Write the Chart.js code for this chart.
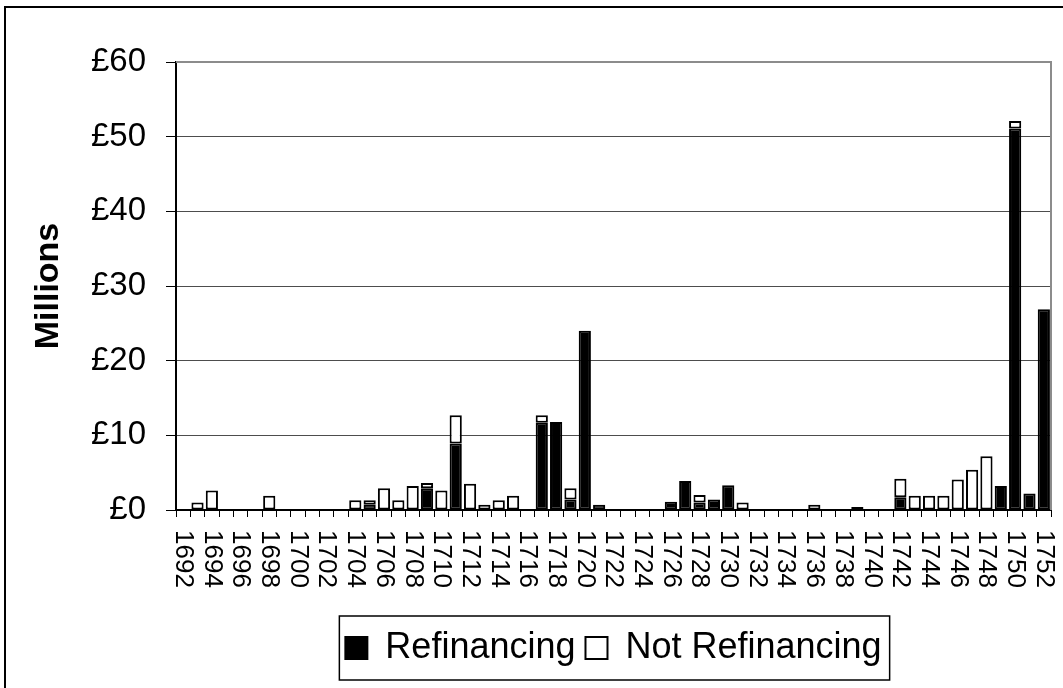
<!DOCTYPE html>
<html>
<head>
<meta charset="utf-8">
<script src="https://cdn.jsdelivr.net/npm/chart.js@4.4.1/dist/chart.umd.min.js"></script>
<style>
  html, body { margin: 0; padding: 0; background: #fff; }
  #wrap { width: 1063px; height: 688px; position: relative; }
</style>
</head>
<body>
<div id="wrap"><canvas id="myChart"></canvas></div>
<script>
// years on the category axis (labels shown for even years only)
const years = [
  '1692','1693','1694','1695','1696','1697','1698','1699','1700','1701',
  '1702','1703','1704','1705','1706','1707','1708','1709','1710','1711',
  '1712','1713','1714','1715','1716','1717','1718','1719','1720','1721',
  '1722','1723','1724','1725','1726','1727','1728','1729','1730','1731',
  '1732','1733','1734','1735','1736','1737','1738','1739','1740','1741',
  '1742','1743','1744','1745','1746','1747','1748','1749','1750','1751',
  '1752'
];

// £ millions
const refinancing = [
  null, null, null, null, null, null, null, null, null, null,   // 1692-1701
  null, null, null, 0.7,  null, null, null, 2.9,  null, 8.9,    // 1702-1711
  null, null, null, null, null, 11.7, 11.8, 1.4,  24.0, 0.7,    // 1712-1721
  null, null, null, null, 1.1,  3.9,  1.0,  1.4,  3.3,  null,   // 1722-1731
  null, null, null, null, null, null, null, 0.4,  null, null,   // 1732-1741
  1.7,  null, null, null, null, null, null, 3.2,  51.1, 2.2,    // 1742-1751
  26.9                                                          // 1752
];
const notRefinancing = [
  null, 1.0,  2.6,  null, null, null, 1.9,  null, null, null,   // 1692-1701
  null, null, 1.3,  0.6,  2.9,  1.3,  3.2,  0.7,  2.6,  3.8,    // 1702-1711
  3.5,  0.7,  1.3,  1.9,  null, 1.0,  null, 1.5,  null, null,   // 1712-1721
  null, null, null, null, null, null, 1.0,  null, null, 1.0,    // 1722-1731
  null, null, null, null, 0.7,  null, null, null, null, null,   // 1732-1741
  2.5,  1.9,  1.9,  1.9,  4.1,  5.4,  7.2,  null, 1.0,  null,   // 1742-1751
  null                                                          // 1752
];

const FONT = '"Liberation Sans", Arial, sans-serif';
Chart.defaults.font.family = FONT;
Chart.defaults.color = '#000';

// white background, outer frame, grey plot-area border
const framePlugin = {
  id: 'frame',
  beforeDraw(chart) {
    const { ctx } = chart;
    ctx.save();
    ctx.fillStyle = '#fff';
    ctx.fillRect(0, 0, chart.width, chart.height);
    ctx.strokeStyle = '#000';
    ctx.lineWidth = 2;
    ctx.strokeRect(5, 7, chart.width + 10, chart.height + 10);
    ctx.restore();
  },
  afterDatasetsDraw(chart) {
    const { ctx, chartArea: a } = chart;
    ctx.save();
    ctx.strokeStyle = '#8c8c8c';
    ctx.lineWidth = 2;
    ctx.beginPath();
    ctx.moveTo(a.left, a.top);
    ctx.lineTo(a.right, a.top);
    ctx.lineTo(a.right, a.bottom);
    ctx.stroke();
    ctx.restore();
  }
};

// year labels turned clockwise (reading top to bottom), like the original
const yearLabels = {
  id: 'yearLabels',
  afterDraw(chart) {
    const xs = chart.scales.x;
    const ctx = chart.ctx;
    ctx.save();
    ctx.font = '26px ' + FONT;
    ctx.fillStyle = '#000';
    ctx.textAlign = 'left';
    ctx.textBaseline = 'middle';
    chart.data.labels.forEach((lab, i) => {
      if (Number(lab) % 2 !== 0) return;
      ctx.save();
      ctx.translate(xs.getPixelForTick(i), xs.top + 20);
      ctx.rotate(Math.PI / 2);
      ctx.fillText(lab, 0, 0);
      ctx.restore();
    });
    ctx.restore();
  }
};

// box round the legend
const legendBox = {
  id: 'legendBox',
  afterDraw(chart) {
    const hb = chart.legend && chart.legend.legendHitBoxes;
    if (!hb || !hb.length) return;
    const last = hb[hb.length - 1];
    const cy = hb[0].top + hb[0].height / 2;
    const ctx = chart.ctx;
    ctx.save();
    ctx.strokeStyle = '#000';
    ctx.lineWidth = 1.5;
    ctx.strokeRect(hb[0].left - 6, cy - 32, last.left + last.width - hb[0].left + 14, 64);
    ctx.restore();
  }
};

const ctx = document.getElementById('myChart').getContext('2d');
const myChart = new Chart(ctx, {
  type: 'bar',
  data: {
    labels: years,
    datasets: [
      {
        label: 'Refinancing',
        data: refinancing,
        backgroundColor: '#000',
        borderColor: '#000',
        borderWidth: 2,
        borderSkipped: false
      },
      {
        label: 'Not Refinancing',
        data: notRefinancing,
        backgroundColor: '#fff',
        borderColor: '#000',
        borderWidth: 2,
        borderSkipped: false
      }
    ]
  },
  options: {
    responsive: true,
    maintainAspectRatio: false,
    animation: false,
    layout: { padding: { top: 62, right: 12, left: 0, bottom: 12 } },
    datasets: { bar: { barPercentage: 0.85, categoryPercentage: 1.0 } },
    plugins: {
      tooltip: { enabled: false },
      legend: {
        position: 'bottom',
        fullSize: false,
        labels: {
          font: { size: 36 },
          color: '#000',
          boxWidth: 22,
          boxHeight: 22,
          padding: 10
        }
      }
    },
    scales: {
      x: {
        stacked: true,
        afterFit: (scale) => { scale.height = 110; },
        grid: {
          offset: true,
          drawOnChartArea: false,
          drawTicks: true,
          tickLength: 7,
          tickColor: '#000',
          color: '#000'
        },
        border: { color: '#000', width: 2 },
        ticks: { display: false, autoSkip: false }
      },
      y: {
        stacked: true,
        min: 0,
        max: 60,
        afterFit: (scale) => { scale.width = 176; },
        title: {
          display: true,
          text: 'Millions',
          font: { size: 34, weight: 'bold' },
          color: '#000',
          padding: { top: 28, bottom: 0 }
        },
        grid: {
          color: (c) => (c.tick && c.tick.value === 60 ? '#8c8c8c' : '#4d4d4d'),
          lineWidth: 1,
          drawTicks: true,
          tickLength: 10,
          tickColor: '#000'
        },
        border: { color: '#000', width: 2 },
        ticks: {
          stepSize: 10,
          padding: 20,
          font: { size: 33 },
          color: '#000',
          callback: (v) => '£' + v
        }
      }
    }
  },
  plugins: [framePlugin, yearLabels, legendBox]
});
</script>
</body>
</html>
